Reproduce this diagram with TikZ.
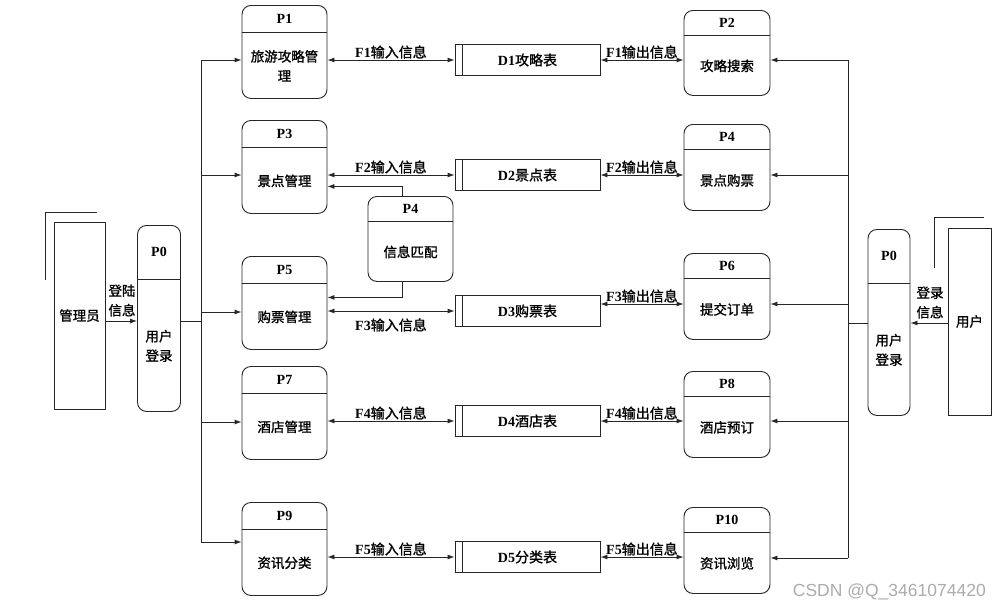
\documentclass[tikz,border=0pt]{standalone}
\usepackage{fontspec}
\setmainfont{Liberation Serif}
\newfontfamily\cjk{Noto Sans CJK SC}[BoldFont={Noto Sans CJK SC},BoldFeatures={FakeBold=1.2}]
\newfontfamily\wmfont{Liberation Sans}
\usetikzlibrary{arrows.meta,calc}
\newcommand\fl[2]{\textbf{#1}{\cjk\bfseries #2}}
\tikzset{
  ln/.style={draw=black!85, line width=0.9pt},
  procshape/.style={draw=black!85, line width=0.9pt, rounded corners=9pt, inner sep=0pt},
  store/.style={draw=black!85, line width=0.9pt, minimum width=145pt, minimum height=31pt, inner sep=0pt},
  ptitle/.style={font=\fontsize{14}{16}\selectfont\bfseries, inner sep=0pt},
  body/.style={font=\fontsize{13.5}{19.5}\selectfont\cjk\bfseries, align=center, inner sep=0pt},
  flow/.style={font=\fontsize{14}{16}\selectfont, inner sep=0pt},
  extbox/.style={draw=black!85, line width=0.9pt, inner sep=0pt, font=\fontsize{13.5}{16}\selectfont\cjk\bfseries},
  oneway/.style={ln, -{Latex[length=7pt,width=5pt]}},
  twoway/.style={ln, {Latex[length=7pt,width=5pt]}-{Latex[length=7pt,width=5pt]}},
}
% name, cx, top, w, h, header, title, body
\newcommand\procbox[8]{%
  \node[procshape, minimum width=#4pt, minimum height=#5pt, anchor=north] (#1) at (#2,#3) {};
  \draw[ln] ([yshift=-#6pt]#1.north west) -- ([yshift=-#6pt]#1.north east);
  \node[ptitle] (#1t) at ([yshift={-#6/2}]#1.north) {#7};
  \node[body] (#1b) at ([yshift={(#5-#6)/2}]#1.south) {#8};
}
% name, cx, cy, label
\newcommand\dstore[4]{%
  \node[store] (#1) at (#2,#3) {};
  \draw[ln] ([xshift=8pt]#1.north west) -- ([xshift=8pt]#1.south west);
  \node[flow] (#1l) at (#1.center) {#4};
}
\begin{document}
\begin{tikzpicture}[x=1pt,y=-1pt]
\useasboundingbox[fill=white] (0,0) rectangle (1002,611);

% processes, left column
\procbox{p1}{284.5}{5}{85}{93}{27}{P1}{旅游攻略管\\理}
\procbox{p3}{284.5}{120}{85}{93}{27}{P3}{景点管理}
\procbox{p5}{284.5}{256}{85}{93}{27}{P5}{购票管理}
\procbox{p7}{284.5}{366}{85}{93}{27}{P7}{酒店管理}
\procbox{p9}{284.5}{502}{85}{93}{27}{P9}{资讯分类}
% processes, right column
\procbox{p2}{727}{10}{86}{85}{25}{P2}{攻略搜索}
\procbox{p4}{727}{124}{86}{86}{25}{P4}{景点购票}
\procbox{p6}{727}{253}{86}{86}{25}{P6}{提交订单}
\procbox{p8}{727}{371}{86}{86}{25}{P8}{酒店预订}
\procbox{p10}{727}{507}{86}{86}{25}{P10}{资讯浏览}
% matching process
\procbox{pm}{410.5}{196}{85}{85}{25}{P4}{信息匹配}
% login processes
\procbox{p0l}{159}{225}{43}{186}{54}{P0}{用户\\登录}
\procbox{p0r}{889}{229}{42}{186}{54}{P0}{用户\\登录}

% data stores
\dstore{d1}{527.5}{60}{\fl{D1}{攻略表}}
\dstore{d2}{527.5}{175}{\fl{D2}{景点表}}
\dstore{d3}{527.5}{311}{\fl{D3}{购票表}}
\dstore{d4}{527.5}{421}{\fl{D4}{酒店表}}
\dstore{d5}{527.5}{557}{\fl{D5}{分类表}}

% external entities
\node[extbox, minimum width=51pt, minimum height=187pt] (adm) at (79.5,315.5) {管理员};
\node[extbox, minimum width=43pt, minimum height=187pt] (usr) at (969.5,321.5) {用户};
\draw[ln] (45,280) -- (45,212) -- (97,212);
\draw[ln] (934,268) -- (934,217) -- (984,217);

% flows left
\draw[twoway] (p1.east |- d1.west) -- node[flow, above=1pt] (f1i) {\fl{F1}{输入信息}} (d1.west);
\draw[twoway] (p3.east |- d2.west) -- node[flow, above=1pt] (f2i) {\fl{F2}{输入信息}} (d2.west);
\draw[twoway] (p5.east |- d3.west) -- node[flow, below=7pt] (f3i) {\fl{F3}{输入信息}} (d3.west);
\draw[twoway] (p7.east |- d4.west) -- node[flow, above=1pt] (f4i) {\fl{F4}{输入信息}} (d4.west);
\draw[twoway] (p9.east |- d5.west) -- node[flow, above=1pt] (f5i) {\fl{F5}{输入信息}} (d5.west);
% flows right
\draw[twoway] (d1.east) -- node[flow, above=1pt] (f1o) {\fl{F1}{输出信息}} (d1.east -| p2.west);
\draw[twoway] (d2.east) -- node[flow, above=1pt] (f2o) {\fl{F2}{输出信息}} (d2.east -| p4.west);
\coordinate (r3) at ([yshift=7pt]d3.east);
\draw[twoway] (r3) -- node[flow, above=1pt] (f3o) {\fl{F3}{输出信息}} (r3 -| p6.west);
\draw[twoway] (d4.east) -- node[flow, above=1pt] (f4o) {\fl{F4}{输出信息}} (d4.east -| p8.west);
\draw[twoway] (d5.east) -- node[flow, above=1pt] (f5o) {\fl{F5}{输出信息}} (d5.east -| p10.west);

% matching process links
\draw[oneway] ([xshift=-8.5pt]pm.north) |- ([yshift=-19.5pt]p3.east);
\draw[oneway] ([xshift=-8.5pt]pm.south) |- ([yshift=5.5pt]p5.east);

% left side: admin login and distribution trunk
\coordinate (lj) at (201,321);
\coordinate (l1) at (201,60);
\coordinate (l2) at (201,175);
\coordinate (l3) at (201,312);
\coordinate (l4) at (201,422);
\coordinate (l5) at (201,542);
\draw[oneway] (adm.east |- lj) -- (p0l.west |- lj);
\node[body] (admlbl) at (122,300.5) {登陆\\信息};
\draw[ln] (p0l.east |- lj) -- (lj);
\draw[ln] (l1) -- (l5);
\draw[oneway] (l1) -- (l1 -| p1.west);
\draw[oneway] (l2) -- (l2 -| p3.west);
\draw[oneway] (l3) -- (l3 -| p5.west);
\draw[oneway] (l4) -- (l4 -| p7.west);
\draw[oneway] (l5) -- (l5 -| p9.west);

% right side: user login and distribution trunk
\coordinate (rj) at (848,323);
\coordinate (s1) at (848,60);
\coordinate (s2) at (848,175);
\coordinate (s3) at (848,304);
\coordinate (s4) at (848,421);
\coordinate (s5) at (848,558);
\draw[oneway] (usr.west |- rj) -- (p0r.east |- rj);
\node[body] (usrlbl) at (930,302.5) {登录\\信息};
\draw[ln] (p0r.west |- rj) -- (rj);
\draw[ln] (s1) -- (s5);
\draw[oneway] (s1) -- (s1 -| p2.east);
\draw[oneway] (s2) -- (s2 -| p4.east);
\draw[oneway] (s3) -- (s3 -| p6.east);
\draw[oneway] (s4) -- (s4 -| p8.east);
\draw[oneway] (s5) -- (s5 -| p10.east);

% watermark
\node[font=\wmfont\fontsize{17.5}{20}\selectfont, text=gray!65, anchor=east, inner sep=0pt] (wm) at (986,592) {CSDN @Q\_3461074420};
\end{tikzpicture}
\end{document}
